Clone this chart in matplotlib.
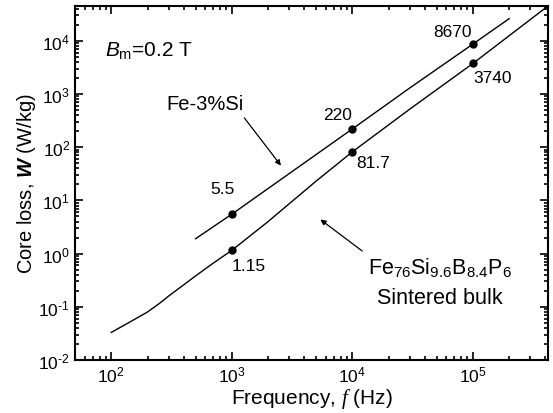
import matplotlib
matplotlib.use("Agg")
import matplotlib.pyplot as plt
from matplotlib.ticker import FixedLocator, NullFormatter, FuncFormatter
import numpy as np

plt.rcParams['font.family'] = ['Liberation Sans', 'DejaVu Sans']
plt.rcParams['mathtext.fontset'] = 'custom'
plt.rcParams['mathtext.rm'] = 'Liberation Sans'
plt.rcParams['mathtext.it'] = 'Liberation Sans:italic'
plt.rcParams['mathtext.bf'] = 'Liberation Sans:bold'
plt.rcParams['mathtext.bfit'] = 'Liberation Sans:italic:bold'
plt.rcParams['mathtext.cal'] = 'Liberation Serif:italic'
plt.rcParams['axes.unicode_minus'] = False

# Fe-3%Si curve
si_f = [500, 1000, 3000, 10000, 30000, 100000, 200000]
si_w = [1.9, 5.5, 32, 220, 1300, 8670, 26000]
# Sintered bulk curve
bulk_f = [100, 130, 160, 200, 250, 300, 400, 500, 700, 1000, 2000, 5000, 10000, 30000, 100000, 420000]
bulk_w = [0.033, 0.046, 0.060, 0.08, 0.115, 0.16, 0.26, 0.38, 0.66, 1.15, 4.0, 23, 81.7, 520, 3740, 45000]
# marked points
mark_f = [1000, 10000, 100000]
si_mark = [5.5, 220, 8670]
bulk_mark = [1.15, 81.7, 3740]
si_labels = ["5.5", "220", "8670"]
bulk_labels = ["1.15", "81.7", "3740"]
# ticks
x_major = [1e2, 1e3, 1e4, 1e5]
y_major = [1e-2, 1e-1, 1e0, 1e1, 1e2, 1e3, 1e4]

fig = plt.figure(figsize=(5.53, 4.14), dpi=100)
ax = fig.add_axes([75/553, 1-361/414, (548-75)/553, (361-7)/414])

ax.plot(si_f, si_w, color='black', lw=1.0)
ax.plot(bulk_f, bulk_w, color='black', lw=1.0)
ax.plot(mark_f, si_mark, 'o', color='black', ms=5)
ax.plot(mark_f, bulk_mark, 'o', color='black', ms=5)

ax.set_xscale('log')
ax.set_yscale('log')
ax.set_xlim(50, 4.2e5)
ax.set_ylim(1e-2, 4.5e4)


def fmt(v, pos):
    e = int(round(np.log10(v)))
    if e < 0:
        return "$10^{\\text{-}%d}$" % (-e)
    return "$10^{%d}$" % e


x_minor = [m * 10.0**d for d in range(1, 6) for m in range(2, 10) if 50 <= m * 10.0**d <= 4.2e5]
y_minor = [m * 10.0**d for d in range(-2, 5) for m in range(2, 10) if m * 10.0**d <= 4.5e4]
ax.xaxis.set_major_locator(FixedLocator(x_major))
ax.yaxis.set_major_locator(FixedLocator(y_major))
ax.xaxis.set_minor_locator(FixedLocator(x_minor))
ax.yaxis.set_minor_locator(FixedLocator(y_minor))
ax.xaxis.set_major_formatter(FuncFormatter(fmt))
ax.yaxis.set_major_formatter(FuncFormatter(fmt))
ax.xaxis.set_minor_formatter(NullFormatter())
ax.yaxis.set_minor_formatter(NullFormatter())

ax.tick_params(which='both', direction='in', top=True, right=True, labelsize=12.5, width=1.2)
ax.tick_params(which='major', length=6)
ax.tick_params(which='minor', length=3)
for s in ax.spines.values():
    s.set_linewidth(1.5)

ax.set_xlabel("Frequency, $\\mathcal{f}$ (Hz)", fontsize=15, labelpad=1)
ax.set_ylabel("Core loss, $\\mathbfit{W}$ (W/kg)", fontsize=14.5, labelpad=0)

fs = 12.5
ax.text(830, 16.6, si_labels[0], ha='center', va='center', fontsize=fs)
ax.text(7500, 405, si_labels[1], ha='center', va='center', fontsize=fs)
ax.text(68000, 15000, si_labels[2], ha='center', va='center', fontsize=fs)
ax.text(1380, 0.6, bulk_labels[0], ha='center', va='center', fontsize=fs)
ax.text(15000, 51, bulk_labels[1], ha='center', va='center', fontsize=fs)
ax.text(146000, 2000, bulk_labels[2], ha='center', va='center', fontsize=fs)

ax.text(0.063, 0.875, "$\\it{B}_{\\rm m}$=0.2 T", transform=ax.transAxes, fontsize=15, va='center')

ax.text(600, 650, "Fe-3%Si", ha='center', va='center', fontsize=14.5)
ax.annotate("", xy=(2640, 41), xytext=(1230, 390),
            arrowprops=dict(arrowstyle='-|>', color='black', lw=0.9, mutation_scale=8))
ax.text(53000, 0.55, "Fe$_{76}$Si$_{9.6}$B$_{8.4}$P$_{6}$", ha='center', va='center', fontsize=15.5)
ax.text(53000, 0.15, "Sintered bulk", ha='center', va='center', fontsize=15.5)
ax.annotate("", xy=(5200, 4.7), xytext=(12600, 1.04),
            arrowprops=dict(arrowstyle='-|>', color='black', lw=0.9, mutation_scale=8))

fig.savefig("out.png", dpi=100)
